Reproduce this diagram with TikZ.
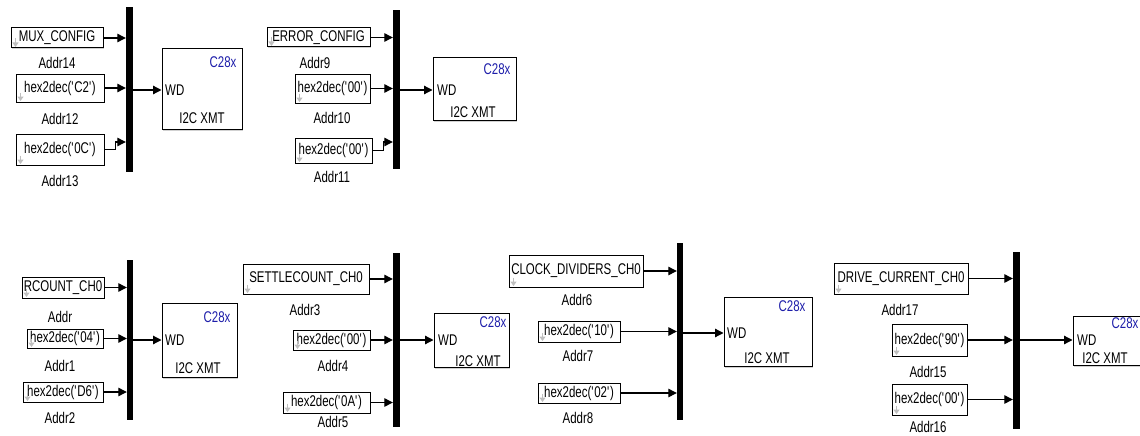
\documentclass[tikz,border=0pt]{standalone}
\usepackage{fontspec}
\setmainfont{Liberation Sans}[FakeStretch=0.74]
\usetikzlibrary{arrows.meta,shadows}
\definecolor{cblue}{RGB}{30,30,170}
\newcommand\myq{\textquotesingle}
\begin{document}
\begin{tikzpicture}[x=1pt,y=-1pt,
  every node/.style={font=\fontsize{15.5}{16}\selectfont, inner sep=0pt},
  cbox/.style={draw=black, line width=1pt, fill=white,
    drop shadow={shadow xshift=1pt, shadow yshift=-1.2pt, fill=gray!60, opacity=.6}},
  bus/.style={fill=black, minimum width=7, inner sep=0pt},
  blk/.style={draw=black, line width=1pt, fill=white,
    drop shadow={shadow xshift=1.2pt, shadow yshift=-1.5pt, fill=gray!60, opacity=.6}},
  sig/.style={line width=1.2pt, -{Triangle[length=8.5pt,width=8.5pt]}},
  icon/.style={gray!50, line width=1.8pt, -{Triangle[length=4.5pt,width=6pt]}},
  c28/.style={text=cblue},
  wd/.style={anchor=west},
]
\useasboundingbox (0,0) rectangle (1140,436);

% ---------------- group 1 ----------------
\node[cbox,minimum width=92,minimum height=20] (g1a) at (57,38) {MUX\_CONFIG};
\node (g1al) at (57,63) {Addr14};
\node[cbox,minimum width=88,minimum height=28] (g1b) at (60,88) {hex2dec(\myq C2\myq)};
\node (g1bl) at (60,119) {Addr12};
\node[cbox,minimum width=88,minimum height=31] (g1c) at (60,149.5) {hex2dec(\myq 0C\myq)};
\node (g1cl) at (60,181) {Addr13};
\node[bus,minimum height=165] (g1bus) at (129.5,89.5) {};
\node[blk,minimum width=80,minimum height=80] (g1k) at (202,89) {};
\node[c28] (g1k1) at (223,62) {C28x};
\node[wd] (g1k2) at (165,90) {WD};
\node (g1k3) at (202,118) {I2C XMT};
\draw[sig] (g1a.east) -- (g1a.east -| g1bus.west);
\draw[sig] (g1b.east) -- (g1b.east -| g1bus.west);
\draw[sig] (g1c.east) -- ++(11,0) |- (g1bus.west |- 0,142);
\draw[sig] (g1bus.east |- g1k2.west) -- (g1k.west |- g1k2.west);

% ---------------- group 2 ----------------
\node[cbox,minimum width=103,minimum height=19] (g2a) at (318.5,37.5) {ERROR\_CONFIG};
\node (g2al) at (315,63) {Addr9};
\node[cbox,minimum width=75,minimum height=29] (g2b) at (332.5,88.5) {hex2dec(\myq 00\myq)};
\node (g2bl) at (332,118) {Addr10};
\node[cbox,minimum width=77,minimum height=25] (g2c) at (333.5,150.5) {hex2dec(\myq 00\myq)};
\node (g2cl) at (332,177) {Addr11};
\node[bus,minimum height=159] (g2bus) at (396.5,89.5) {};
\node[blk,minimum width=83,minimum height=62] (g2k) at (474.5,89) {};
\node[c28] (g2k1) at (497,69) {C28x};
\node[wd] (g2k2) at (437,90) {WD};
\node (g2k3) at (473,112) {I2C XMT};
\draw[sig] (g2a.east) -- (g2a.east -| g2bus.west);
\draw[sig] (g2b.east) -- (g2b.east -| g2bus.west);
\draw[sig] (g2c.east) -- ++(11,0) |- (g2bus.west |- 0,142);
\draw[sig] (g2bus.east |- g2k2.west) -- (g2k.west |- g2k2.west);

% ---------------- group 3 ----------------
\node[cbox,minimum width=82,minimum height=21] (g3a) at (63,287.5) {RCOUNT\_CH0};
\node (g3al) at (60,317) {Addr};
\node[cbox,minimum width=76,minimum height=19] (g3b) at (65,338.5) {hex2dec(\myq 04\myq)};
\node (g3bl) at (60,366) {Addr1};
\node[cbox,minimum width=80,minimum height=20] (g3c) at (63,392) {hex2dec(\myq D6\myq)};
\node (g3cl) at (60,418) {Addr2};
\node[bus,minimum width=6,minimum height=160] (g3bus) at (130,340) {};
\node[blk,minimum width=75,minimum height=74] (g3k) at (199.5,340) {};
\node[c28] (g3k1) at (217,317) {C28x};
\node[wd] (g3k2) at (165,340) {WD};
\node (g3k3) at (198,368) {I2C XMT};
\draw[sig] (g3a.east) -- (g3a.east -| g3bus.west);
\draw[sig] (g3b.east) -- (g3b.east -| g3bus.west);
\draw[sig] (g3c.east) -- (g3c.east -| g3bus.west);
\draw[sig] (g3bus.east |- g3k2.west) -- (g3k.west |- g3k2.west);

% ---------------- group 4 ----------------
\node[cbox,minimum width=126,minimum height=30] (g4a) at (306,279) {SETTLECOUNT\_CH0};
\node (g4al) at (305,310) {Addr3};
\node[cbox,minimum width=77,minimum height=20] (g4b) at (331.5,340) {hex2dec(\myq 00\myq)};
\node (g4bl) at (333,366) {Addr4};
\node[cbox,minimum width=87,minimum height=21] (g4c) at (326.5,402.5) {hex2dec(\myq 0A\myq)};
\node (g4cl) at (333,422) {Addr5};
\node[bus,minimum height=174] (g4bus) at (396.5,340) {};
\node[blk,minimum width=75,minimum height=54] (g4k) at (471.5,340) {};
\node[c28] (g4k1) at (493,322) {C28x};
\node[wd] (g4k2) at (438,340) {WD};
\node (g4k3) at (478,361) {I2C XMT};
\draw[sig] (g4a.east) -- (g4a.east -| g4bus.west);
\draw[sig] (g4b.east) -- (g4b.east -| g4bus.west);
\draw[sig] (g4c.east) -- (g4c.east -| g4bus.west);
\draw[sig] (g4bus.east |- g4k2.west) -- (g4k.west |- g4k2.west);

% ---------------- group 5 ----------------
\node[cbox,minimum width=134,minimum height=32] (g5a) at (576,271) {CLOCK\_DIVIDERS\_CH0};
\node (g5al) at (577,300) {Addr6};
\node[cbox,minimum width=82,minimum height=21] (g5b) at (579,331.5) {hex2dec(\myq 10\myq)};
\node (g5bl) at (578,356) {Addr7};
\node[cbox,minimum width=82,minimum height=20] (g5c) at (579,393) {hex2dec(\myq 02\myq)};
\node (g5cl) at (578,418) {Addr8};
\node[bus,minimum width=6,minimum height=177] (g5bus) at (680,331.5) {};
\node[blk,minimum width=88,minimum height=69] (g5k) at (768,331.5) {};
\node[c28] (g5k1) at (792,306) {C28x};
\node[wd] (g5k2) at (727,333) {WD};
\node (g5k3) at (767,358) {I2C XMT};
\draw[sig] (g5a.east) -- (g5a.east -| g5bus.west);
\draw[sig] (g5b.east) -- (g5b.east -| g5bus.west);
\draw[sig] (g5c.east) -- (g5c.east -| g5bus.west);
\draw[sig] (g5bus.east |- g5k2.west) -- (g5k.west |- g5k2.west);

% ---------------- group 6 ----------------
\node[cbox,minimum width=134,minimum height=31] (g6a) at (901,278.5) {DRIVE\_CURRENT\_CH0};
\node (g6al) at (900,310) {Addr17};
\node[cbox,minimum width=75,minimum height=32] (g6b) at (929.5,340) {hex2dec(\myq 90\myq)};
\node (g6bl) at (928,372) {Addr15};
\node[cbox,minimum width=75,minimum height=31] (g6c) at (929.5,399.5) {hex2dec(\myq 00\myq)};
\node (g6cl) at (928,427) {Addr16};
\node[bus,minimum height=177] (g6bus) at (1016.5,340.5) {};
\node[blk,minimum width=87,minimum height=49] (g6k) at (1116.5,340.5) {};
\node[c28] (g6k1) at (1125,323) {C28x};
\node[wd] (g6k2) at (1077,340) {WD};
\node (g6k3) at (1105,358) {I2C XMT};
\draw[sig] (g6a.east) -- (g6a.east -| g6bus.west);
\draw[sig] (g6b.east) -- (g6b.east -| g6bus.west);
\draw[sig] (g6c.east) -- (g6c.east -| g6bus.west);
\draw[sig] (g6bus.east |- g6k2.west) -- (g6k.west |- g6k2.west);

% small grey icons in the constant blocks
\foreach \n in {g1a,g1b,g1c,g2a,g2b,g2c,g3a,g3b,g3c,g4a,g4b,g4c,g5a,g5b,g5c,g6a,g6b,g6c}
  \draw[icon] ([xshift=5pt,yshift=10pt]\n.south west) -- ([xshift=5pt,yshift=1.5pt]\n.south west);
\end{tikzpicture}
\end{document}
